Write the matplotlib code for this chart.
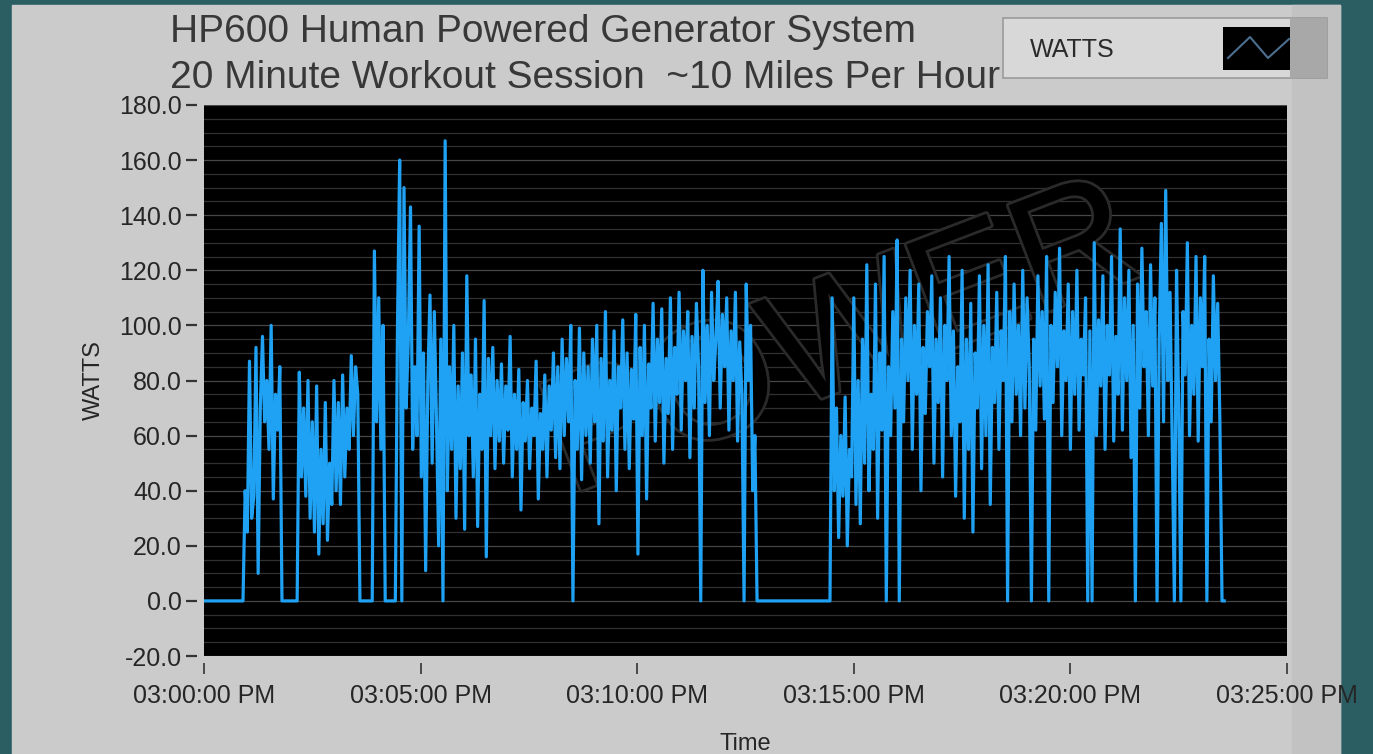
import numpy as np
import matplotlib.pyplot as plt
from matplotlib.patches import Rectangle
from matplotlib.lines import Line2D
import matplotlib.patheffects as pe

# Watts. Each burst starts at a given second after
# 03:00:00 PM and has one reading every 3 seconds; between bursts the
# generator is idle at 0 W.
sample_step = 3
burst_starts = [54, 129, 233, 265, 867]

burst_1 = [0, 40, 25, 87, 30, 38, 92, 10, 70, 96, 65, 80, 55, 100, 37, 75,
           62, 85, 0]
burst_2 = [0, 83, 45, 70, 38, 80, 30, 65, 25, 78, 17, 55, 28, 72, 22, 50,
           35, 80, 40, 72, 35, 82, 45, 70, 55, 89, 60, 85, 75, 0]
burst_3 = [0, 127, 65, 110, 55, 100, 0]
burst_4 = [0, 100, 160, 0, 150, 70, 95, 143, 55, 85,
           60, 136, 45, 90, 11, 80, 111, 50, 105, 65,
           20, 95, 0, 167, 40, 85, 55, 100, 30, 78,
           48, 90, 26, 118, 60, 82, 45, 95, 27, 75,
           55, 109, 16, 88, 60, 92, 48, 80, 58, 86,
           50, 78, 62, 96, 45, 75, 55, 84, 33, 72,
           58, 80, 48, 70, 60, 87, 37, 68, 55, 82,
           45, 78, 62, 90, 52, 85, 48, 95, 60, 88,
           65, 100, 0, 80, 55, 99, 44, 90, 60, 85,
           50, 95, 65, 100, 28, 88, 58, 105, 45, 80,
           62, 98, 40, 85, 70, 102, 55, 90, 48, 84,
           66, 104, 17, 92, 60, 100, 37, 86, 70, 108,
           58, 95, 72, 106, 50, 88, 68, 110, 55, 92,
           75, 112, 62, 98, 80, 105, 52, 96, 70, 108,
           85, 0, 120, 72, 100, 60, 112, 80, 95, 116,
           70, 104, 85, 110, 62, 98, 80, 112, 58, 94,
           75, 0, 115, 80, 100, 40, 60, 0]
burst_5 = [0, 110, 40, 70, 23, 60, 38, 74, 20, 55,
           45, 110, 35, 80, 28, 95, 50, 122, 40, 75,
           55, 115, 30, 90, 62, 125, 0, 85, 60, 105,
           70, 131, 0, 95, 65, 110, 80, 120, 55, 100,
           75, 115, 40, 92, 68, 105, 85, 118, 50, 95,
           72, 110, 45, 100, 80, 125, 60, 98, 38, 85,
           65, 120, 30, 95, 55, 108, 25, 90, 70, 118,
           48, 100, 60, 122, 35, 92, 72, 112, 55, 98,
           80, 125, 0, 105, 65, 115, 75, 100, 60, 120,
           70, 110, 85, 0, 95, 62, 118, 78, 105, 66,
           125, 0, 100, 72, 112, 85, 128, 60, 98, 80,
           115, 55, 105, 75, 120, 62, 95, 82, 110, 0,
           98, 0, 130, 60, 102, 78, 118, 55, 100, 82,
           125, 58, 96, 75, 135, 62, 110, 80, 120, 52,
           100, 0, 115, 70, 128, 85, 105, 60, 122, 78,
           110, 0, 95, 137, 65, 149, 80, 112, 58, 0,
           120, 70, 0, 105, 82, 130, 60, 100, 75, 125,
           58, 110, 85, 125, 0, 95, 65, 118, 80, 108,
           66, 0, 0]
bursts = [burst_1, burst_2, burst_3, burst_4, burst_5]

tick_seconds = [0, 300, 600, 900, 1200, 1500]
tick_labels = ["03:00:00 PM", "03:05:00 PM", "03:10:00 PM",
               "03:15:00 PM", "03:20:00 PM", "03:25:00 PM"]

t = [0]
w = [0]
for start, vals in zip(burst_starts, bursts):
    t.extend(start + sample_step * np.arange(len(vals)))
    w.extend(vals)

W, H = 1373, 754


def fx(x):
    return x / W


def fy(y):
    return 1 - y / H


font = 'Liberation Sans'
txt_col = '#262626'

fig = plt.figure(figsize=(W / 100, H / 100), dpi=100, facecolor='#2b5e63')
fig.add_artist(Rectangle((fx(12), 0), fx(1340) - fx(12), fy(5),
                         transform=fig.transFigure, color='#cbcbcb', zorder=0))
fig.add_artist(Rectangle((fx(1292), 0), fx(1340) - fx(1292), fy(5),
                         transform=fig.transFigure, color='#c2c2c2', zorder=0))

ax = fig.add_axes([fx(204), fy(656), fx(1287) - fx(204), fy(105) - fy(656)])
ax.set_facecolor('black')

# horizontal grid
for v in range(-20, 181, 5):
    ax.axhline(v, color='#474747' if v % 20 == 0 else '#313131', lw=0.9, zorder=1)

# faint watermark behind the trace
ax.text(885, 93, "POWER", fontsize=118, family=font, color='black',
        rotation=21, ha='center', va='center', zorder=1.5,
        path_effects=[pe.withStroke(linewidth=4, foreground='#2a2a2a')])

ax.plot(t, w, color='#20a2f4', lw=2.3, zorder=3)

ax.set_xlim(0, 1500)
ax.set_ylim(-20, 180)
ax.set_yticks(range(-20, 181, 20))
ax.set_yticklabels([f"{v:.1f}" for v in range(-20, 181, 20)])
ax.set_xticks(tick_seconds)
ax.set_xticklabels(tick_labels)

for s in ax.spines.values():
    s.set_visible(False)
ax.spines['bottom'].set_position(('outward', 5))
ax.spines['left'].set_position(('outward', 5))
ax.tick_params(axis='x', length=8, width=1.2, color='#333333', pad=7,
               labelsize=18, labelcolor=txt_col)
ax.tick_params(axis='y', length=8, width=1.6, color='#333333', pad=3,
               labelsize=18, labelcolor=txt_col)
for lab in ax.get_xticklabels() + ax.get_yticklabels():
    lab.set_family(font)

ax.set_ylabel("WATTS", fontsize=17, family=font, color=txt_col, labelpad=10)
ax.set_xlabel("Time", fontsize=17, family=font, color=txt_col, labelpad=18)

fig.text(fx(170), fy(42), "HP600 Human Powered Generator System", fontsize=28,
         family=font, color='#383838', va='baseline')
fig.text(fx(170), fy(88), "20 Minute Workout Session  ~10 Miles Per Hour",
         fontsize=28, family=font, color='#383838', va='baseline')

# legend box, LabVIEW style
fig.add_artist(Rectangle((fx(1003), fy(78)), fx(1327) - fx(1003), fy(18) - fy(78),
                         transform=fig.transFigure, facecolor='#d8d8d8',
                         edgecolor='#9a9a9a', lw=1.2, zorder=2))
fig.add_artist(Rectangle((fx(1290), fy(78)), fx(1327) - fx(1290), fy(18) - fy(78),
                         transform=fig.transFigure, facecolor='#a8a8a8',
                         edgecolor='none', zorder=2))
fig.add_artist(Rectangle((fx(1223), fy(70)), fx(1290) - fx(1223), fy(27) - fy(70),
                         transform=fig.transFigure, facecolor='black',
                         edgecolor='none', zorder=3))
fig.add_artist(Line2D([fx(1228), fx(1250), fx(1268), fx(1289)],
                      [fy(58), fy(37), fy(58), fy(39)],
                      transform=fig.transFigure, color='#4d6f8f', lw=1.5, zorder=4))
fig.text(fx(1030), fy(57), "WATTS", fontsize=18, family=font,
         color='#2a2a2a', va='baseline', zorder=4)

fig.savefig("out.png", dpi=100, facecolor=fig.get_facecolor())
